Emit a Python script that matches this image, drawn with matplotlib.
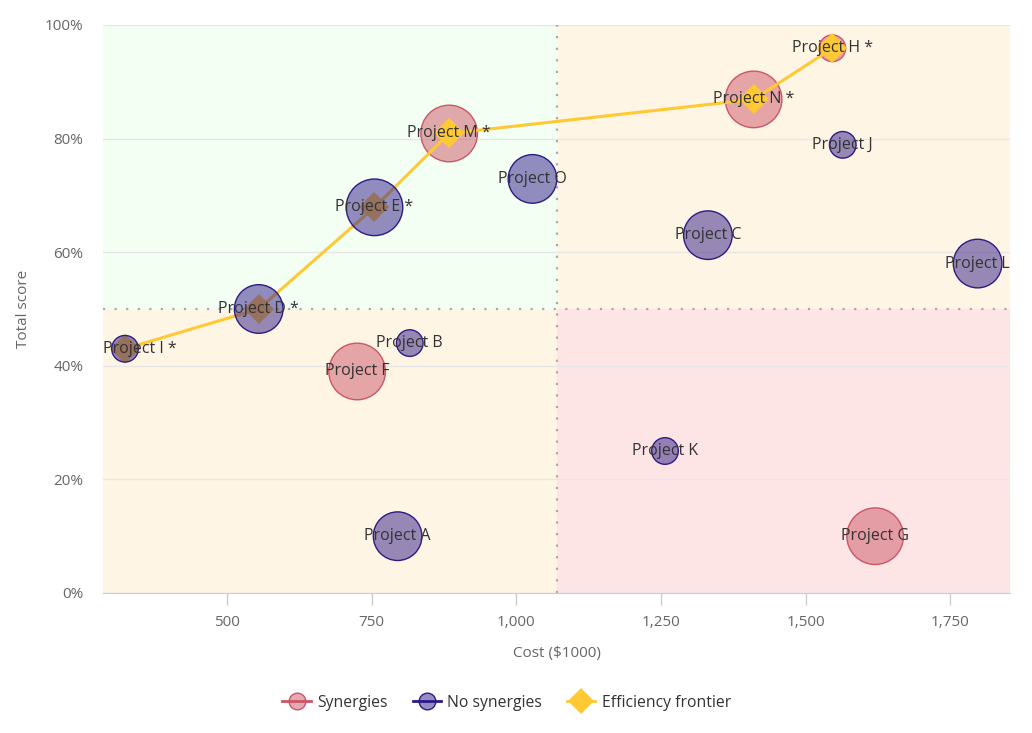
import matplotlib
matplotlib.use("Agg")
import matplotlib.pyplot as plt
from matplotlib.lines import Line2D
from matplotlib.ticker import FuncFormatter
from matplotlib.transforms import offset_copy

plt.rcParams['font.family'] = ['Open Sans', 'DejaVu Sans']

# Datos de los proyectos
names = ["Project I *", "Project D *", "Project E *", "Project M *", "Project O",
         "Project N *", "Project H *", "Project J", "Project C", "Project L",
         "Project B", "Project F", "Project A", "Project K", "Project G"]
cost = [324, 555, 755, 884, 1028, 1410, 1546, 1564, 1331, 1797, 816, 725, 795, 1257, 1620]
score = [0.43, 0.50, 0.679, 0.809, 0.729, 0.869, 0.959, 0.789, 0.630, 0.580,
         0.440, 0.390, 0.100, 0.250, 0.100]
synergy = [False, False, False, True, False, True, True, False, False, False,
           False, True, False, False, True]
impact = [1, 2, 3, 3, 2, 3, 1, 1, 2, 2, 1, 3, 2, 1, 3]

frontier_names = ["Project I *", "Project D *", "Project E *", "Project M *",
                  "Project N *", "Project H *"]

cost_split = 1070
score_split = 0.5
xmin, xmax = 286, 1853

# Estilo
pink = "#cc5566"
navy = "#2e1a87"
gold = "#ffc933"
bubble_size = {1: 367, 2: 1225, 3: 1660}

fig = plt.figure(figsize=(10.32, 7.33), dpi=100)
ax = fig.add_axes([0.0998, 0.191, 0.8789, 0.7749])
ax.set_xlim(xmin, xmax)
ax.set_ylim(0, 1)

# Cuadrantes
ax.axvspan(xmin, cost_split, ymin=0.5, ymax=1, color="#f4fff4", lw=0, zorder=0)
ax.axvspan(cost_split, xmax, ymin=0.5, ymax=1, color="#fff5e5", lw=0, zorder=0)
ax.axvspan(xmin, cost_split, ymin=0, ymax=0.5, color="#fff5e5", lw=0, zorder=0)
ax.axvspan(cost_split, xmax, ymin=0, ymax=0.5, color="#fde5e6", lw=0, zorder=0)
ax.axvline(cost_split, color="#aaaaaa", lw=1.6, ls=(0, (1, 4.2)), zorder=1)
ax.axhline(score_split, color="#aaaaaa", lw=1.6, ls=(0, (1, 4.2)), zorder=1)

ax.set_yticks([0, 0.2, 0.4, 0.6, 0.8, 1.0])
ax.yaxis.set_major_formatter(FuncFormatter(lambda v, p: f"{v*100:.0f}%"))
ax.set_xticks([500, 750, 1000, 1250, 1500, 1750])
ax.xaxis.set_major_formatter(FuncFormatter(lambda v, p: f"{v:,.0f}"))
ax.grid(axis="y", color="#e6e6e6", lw=1, zorder=0.5)
ax.set_axisbelow(True)

for s in ["top", "right", "left"]:
    ax.spines[s].set_visible(False)
ax.spines["bottom"].set_color("#cccccc")
ax.spines["bottom"].set_zorder(1.5)
ax.tick_params(axis="y", length=0, pad=14, labelsize=11, labelcolor="#666666")
ax.tick_params(axis="x", length=8.5, width=1, color="#cccccc", pad=7,
               labelsize=11, labelcolor="#666666")

ax.set_xlabel("Cost ($1000)", color="#666666", fontsize=11, labelpad=12)
ax.set_ylabel("Total score", color="#666666", fontsize=11, labelpad=10)

# Burbujas
for syn, col, z in [(True, pink, 2), (False, navy, 4)]:
    xs = [c for c, s in zip(cost, synergy) if s == syn]
    ys = [v for v, s in zip(score, synergy) if s == syn]
    ss = [bubble_size[i] for i, s in zip(impact, synergy) if s == syn]
    ax.scatter(xs, ys, s=ss, facecolor=matplotlib.colors.to_rgba(col, 0.5),
               edgecolor=col, linewidth=1, zorder=z)

# Frontera de eficiencia
fx = [cost[names.index(n)] for n in frontier_names]
fy = [score[names.index(n)] for n in frontier_names]
ax.plot(fx, fy, color=gold, lw=2.2, marker="D", markersize=15,
        markeredgewidth=0, zorder=3)

# Etiquetas (se mantienen dentro del area del grafico)
renderer = fig.canvas.get_renderer()
axbox = ax.get_window_extent(renderer)
for n, x, y in zip(names, cost, score):
    t = ax.text(x, y, n, ha="center", va="center", fontsize=11.5,
                color="#333333", zorder=5)
    bb = t.get_window_extent(renderer)
    shift = 0
    if bb.x0 < axbox.x0:
        shift = axbox.x0 - bb.x0
    elif bb.x1 > axbox.x1:
        shift = axbox.x1 - bb.x1
    if shift:
        t.set_transform(offset_copy(ax.transData, fig=fig, x=shift * 72 / fig.dpi,
                                    y=0, units="points"))

handles = [
    Line2D([], [], color=pink, lw=2, marker="o", markersize=12,
           markerfacecolor=matplotlib.colors.to_rgba(pink, 0.5), markeredgecolor=pink),
    Line2D([], [], color=navy, lw=2, marker="o", markersize=12,
           markerfacecolor=matplotlib.colors.to_rgba(navy, 0.5), markeredgecolor=navy),
    Line2D([], [], color=gold, lw=2, marker="D", markersize=13, markeredgewidth=0),
]
fig.legend(handles, ["Synergies", "No synergies", "Efficiency frontier"],
           loc="center", bbox_to_anchor=(0.491, 0.041), ncol=3, frameon=False,
           fontsize=11.3, labelcolor="#333333", handlelength=1.8,
           handletextpad=0.4, columnspacing=1.6)

fig.savefig("out.png", dpi=100)
